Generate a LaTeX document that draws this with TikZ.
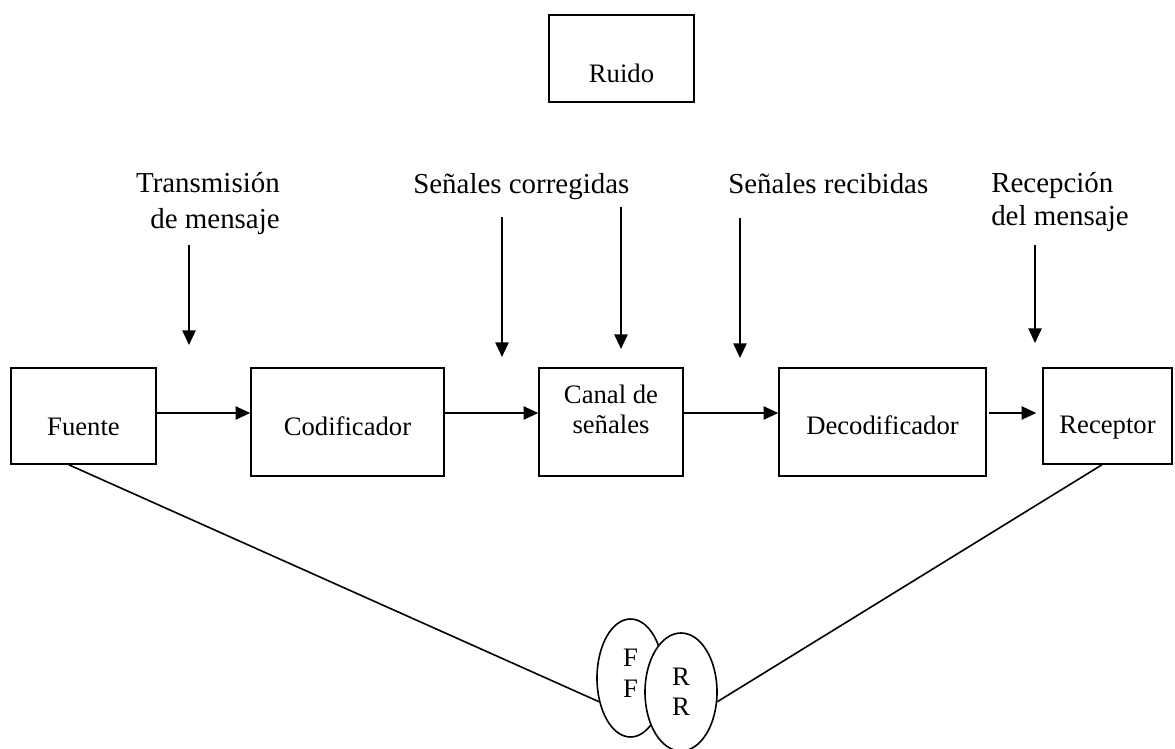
\documentclass[tikz,border=0pt]{standalone}
\usepackage{fontspec}
\setmainfont{Liberation Serif}
\usetikzlibrary{arrows.meta,shapes.geometric,calc}
\begin{document}
\begin{tikzpicture}[x=0.75pt,y=-0.75pt,
  blk/.style={draw,line width=1.2pt,inner sep=0pt,anchor=base,align=center,
    font=\fontsize{20}{22.5}\selectfont},
  oval/.style={draw,ellipse,line width=1.2pt,inner sep=0pt,fill=white,align=center},
  lbl/.style={inner sep=0pt},
  arr/.style={line width=1.2pt,-{Triangle[length=11pt,width=10pt]}},
  link/.style={line width=1.2pt}]
\useasboundingbox (0,0) rectangle (1175,749);

% noise source
\node[blk,minimum width=108.75pt,text height=51pt,text depth=14.25pt] (ruido) at (621.5,83) {Ruido};

% chain of blocks (multi-line nodes sit on their last baseline)
\node[blk,minimum width=108.75pt,text height=50.25pt,text depth=21.75pt] (fuente) at (83.5,435) {Fuente};
\node[blk,minimum width=144.75pt,text height=50.25pt,text depth=30.75pt] (codif) at (347.5,435) {Codificador};
\node[blk,minimum width=108pt,text height=48.75pt,text depth=32.25pt] (canal) at (611,433) {Canal de\\se\~nales};
\node[blk,minimum width=155.25pt,text height=49.5pt,text depth=31.5pt] (decod) at (882.5,434) {Decodificador};
\node[blk,minimum width=96.75pt,text height=48.75pt,text depth=23.25pt] (recep) at (1107.5,433) {Receptor};

% shared field of experience
\node[oval,minimum width=50.25pt,minimum height=88.5pt,text height=45pt,text depth=15.75pt,
  font=\fontsize{20}{23.25}\selectfont] (ff) at (630.5,678) {F\\F};
\node[oval,minimum width=54pt,minimum height=88.5pt,text height=45pt,text depth=9.75pt,
  font=\fontsize{20}{22.5}\selectfont] (rr) at (681,692) {R\\R};

% stage labels
\node[lbl,anchor=base east,align=right,font=\fontsize{21.7}{27}\selectfont] (ltrans) at (280,228) {Transmisión\\de mensaje};
\node[lbl,anchor=base west,font=\fontsize{21.7}{27}\selectfont] (lcorr) at (413,193) {Señales corregidas};
\node[lbl,anchor=base west,font=\fontsize{21.7}{27}\selectfont] (lrec) at (728,193) {Señales recibidas};
\node[lbl,anchor=base west,align=left,font=\fontsize{21.7}{24.75}\selectfont] (lrecep) at (991,225) {Recepción\\del mensaje};

% main signal path
\coordinate (row) at (0,413);
\draw[arr] (fuente.east |- row) -- (codif.west |- row);
\draw[arr] (codif.east |- row) -- (canal.west |- row);
\draw[arr] (canal.east |- row) -- (decod.west |- row);
\draw[arr,shorten <=1.5pt,shorten >=4.5pt] (decod.east |- row) -- (recep.west |- row);

% downward arrows
\coordinate (v1a) at (189,245);  \coordinate (v1b) at (189,345);
\coordinate (v2a) at (502,217);  \coordinate (v2b) at (502,357);
\coordinate (v3a) at (621,207);  \coordinate (v3b) at (621,349);
\coordinate (v4a) at (740,218);  \coordinate (v4b) at (740,358);
\coordinate (v5a) at (1035,245); \coordinate (v5b) at (1035,343);
\draw[arr] (v1a) -- (v1b);
\draw[arr] (v2a) -- (v2b);
\draw[arr] (v3a) -- (v3b);
\draw[arr] (v4a) -- (v4b);
\draw[arr] (v5a) -- (v5b);

% links to the shared field
\draw[link] ($(fuente.south west)!0.4!(fuente.south east)$) -- (ff.217);
\draw[link] ($(recep.south west)!0.457!(recep.south east)$) -- (rr.-15);
\end{tikzpicture}
\end{document}
